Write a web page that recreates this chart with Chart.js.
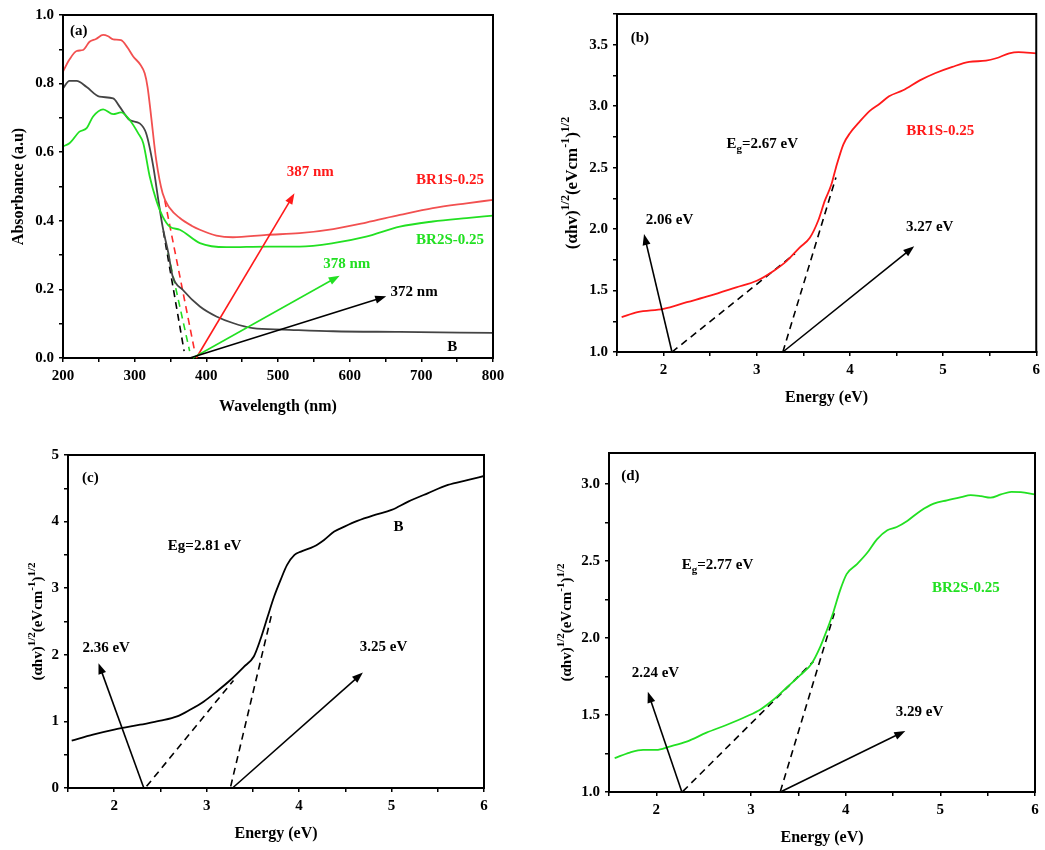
<!DOCTYPE html>
<html>
<head>
<meta charset="utf-8">
<script src="https://cdn.jsdelivr.net/npm/chart.js@4.4.1/dist/chart.umd.min.js"></script>
<style>
  body { margin: 0; background: #fff; width: 1045px; height: 850px; position: relative; overflow: hidden; }
  .box { position: absolute; }
</style>
</head>
<body>
<div class="box" style="left:0;top:0;width:515px;height:420px"><canvas id="ca"></canvas></div>
<div class="box" style="left:520px;top:0;width:525px;height:420px"><canvas id="cb"></canvas></div>
<div class="box" style="left:0;top:430px;width:515px;height:420px"><canvas id="cc"></canvas></div>
<div class="box" style="left:520px;top:430px;width:525px;height:420px"><canvas id="cd"></canvas></div>
<script>
// (a) absorbance spectra
const aRedX = [200,209,219,228,237,246,256,263,270,281,290,298,308,314,318,323,330,339,349,363,380,391,414,437,484,530,577,623,670,716,763,800];
const aRedY = [0.835,0.87,0.895,0.898,0.922,0.93,0.942,0.938,0.929,0.927,0.905,0.879,0.855,0.83,0.79,0.704,0.578,0.48,0.437,0.408,0.385,0.374,0.357,0.352,0.359,0.364,0.376,0.395,0.417,0.437,0.451,0.461];
const aGreenX = [200,209,223,233,242,256,270,281,293,305,312,321,330,339,349,363,391,428,484,530,577,623,670,716,763,800];
const aGreenY = [0.617,0.626,0.66,0.67,0.704,0.725,0.711,0.716,0.694,0.655,0.626,0.529,0.461,0.413,0.383,0.374,0.335,0.323,0.325,0.325,0.335,0.354,0.383,0.398,0.408,0.415];
const aBlackX = [200,209,219,233,251,270,279,293,307,316,326,333,339,347,353,367,391,414,437,465,507,577,670,800];
const aBlackY = [0.786,0.808,0.808,0.79,0.762,0.757,0.733,0.694,0.684,0.655,0.558,0.461,0.383,0.306,0.238,0.199,0.15,0.121,0.102,0.087,0.083,0.078,0.076,0.073];
const aTangents = [[340,0.37,369,0.02,'#000'],[346.5,0.306,376.7,0.02,'#22dd22'],[342,0.46,383.7,0.02,'#ff2a2a']];
const aArrows = [[386,0,523,0.48,'#ff1a1a'],[381,0,586,0.24,'#22e022'],[377,0,651,0.18,'#000']];
const aXTicks = [200,300,400,500,600,700,800];
const aYTicks = [0,0.2,0.4,0.6,0.8,1.0];

// (b) BR1S-0.25 Tauc plot
const bX = [1.55,1.72,2.0,2.25,2.5,2.78,3.0,3.18,3.32,3.46,3.57,3.66,3.73,3.80,3.85,3.93,4.0,4.10,4.21,4.32,4.42,4.57,4.75,4.92,5.10,5.28,5.46,5.57,5.71,5.81,6.0];
const bY = [1.283,1.324,1.351,1.405,1.458,1.526,1.58,1.66,1.74,1.85,1.93,2.07,2.23,2.36,2.50,2.69,2.78,2.87,2.96,3.02,3.08,3.13,3.21,3.27,3.32,3.36,3.37,3.39,3.43,3.44,3.43];
const bTangents = [[2.09,1.0,3.41,1.80],[3.28,1.0,3.85,2.42]];
const bArrows = [[2.09,1.0,1.79,1.96],[3.28,1.0,4.69,1.86]];
const bYTicks = [1.0,1.5,2.0,2.5,3.0,3.5];

// (c) B Tauc plot
const cX = [1.54,1.77,2.0,2.28,2.5,2.68,2.82,2.97,3.11,3.26,3.40,3.51,3.58,3.66,3.73,3.80,3.87,3.95,4.02,4.16,4.27,4.38,4.49,4.63,4.82,5.0,5.18,5.39,5.61,5.83,6.0];
const cY = [0.71,0.80,0.875,0.95,1.01,1.075,1.175,1.30,1.45,1.625,1.815,1.975,2.225,2.575,2.875,3.125,3.35,3.50,3.55,3.625,3.725,3.85,3.925,4.01,4.10,4.175,4.30,4.425,4.55,4.625,4.685];
const cTangents = [[2.35,0.025,3.29,1.615],[3.26,0.025,3.71,2.65]];
const cArrows = [[2.32,0,1.83,1.875],[3.28,0,4.69,1.735]];
const cYTicks = [0,1,2,3,4,5];

// (d) BR2S-0.25 Tauc plot
const dX = [1.56,1.72,1.86,2.0,2.14,2.32,2.53,2.74,2.95,3.10,3.24,3.38,3.52,3.64,3.73,3.80,3.87,3.94,4.01,4.12,4.23,4.33,4.44,4.54,4.65,4.79,4.93,5.07,5.22,5.32,5.43,5.53,5.64,5.75,5.85,6.0];
const dY = [1.22,1.256,1.273,1.273,1.295,1.327,1.385,1.435,1.49,1.536,1.60,1.68,1.758,1.833,1.94,2.048,2.167,2.307,2.414,2.479,2.554,2.64,2.699,2.72,2.759,2.824,2.871,2.893,2.914,2.927,2.92,2.91,2.931,2.948,2.946,2.931];
const dTangents = [[2.28,1.004,3.66,1.848],[3.31,1.004,3.88,2.16]];
const dArrows = [[2.27,1.0,1.91,1.65],[3.31,1.0,4.63,1.396]];
const dYTicks = [1.0,1.5,2.0,2.5,3.0];

const eXTicks = [2,3,4,5,6];

const FONT = '"Liberation Serif", "Times New Roman", serif';
const RED = '#ff2a2a';
const GREEN = '#22e022';

function pts(xs, ys) {
  return xs.map((x, i) => ({ x: x, y: ys[i] }));
}

function curve(xs, ys, color) {
  return { data: pts(xs, ys), borderColor: color, borderWidth: 1.8, pointRadius: 0,
           cubicInterpolationMode: 'monotone', fill: false };
}

function dashed(t, color) {
  return { data: [{ x: t[0], y: t[1] }, { x: t[2], y: t[3] }], borderColor: color || t[4] || '#000',
           borderWidth: 1.6, borderDash: [7, 5], pointRadius: 0, fill: false };
}

function axis(min, max, minor, majors, digits, size) {
  return {
    type: 'linear', min: min, max: max,
    afterBuildTicks: s => {
      const t = [];
      for (let v = min; v <= max + 1e-9; v += minor) t.push({ value: +v.toFixed(4) });
      s.ticks = t;
    },
    afterFit: s => { if (s.isHorizontal()) s.height = size; else s.width = size; },
    ticks: {
      autoSkip: false, maxRotation: 0, color: '#000', padding: 5,
      font: { family: FONT, size: 15, weight: 'bold' },
      callback: v => majors.some(m => Math.abs(m - v) < 1e-6) ? (+v).toFixed(digits) : ''
    },
    grid: { drawOnChartArea: false, tickLength: 4, color: '#000', lineWidth: 1.5 },
    border: { color: '#000', width: 2 }
  };
}

// texte med upphöjda / nedsänkta delar
function drawRich(ctx, parts, x, y, align, color, size) {
  const big = 'bold ' + size + 'px ' + FONT;
  const small = 'bold ' + Math.round(size * 0.7) + 'px ' + FONT;
  let w = 0;
  parts.forEach(p => { ctx.font = (p.sup || p.sub) ? small : big; w += ctx.measureText(p.t).width; });
  let cx = align === 'left' ? x : x - w / 2;
  ctx.fillStyle = color;
  ctx.textBaseline = 'middle';
  ctx.textAlign = 'left';
  parts.forEach(p => {
    ctx.font = (p.sup || p.sub) ? small : big;
    const dy = p.sup ? -size * 0.42 : (p.sub ? size * 0.3 : 0);
    ctx.fillText(p.t, cx, y + dy);
    cx += ctx.measureText(p.t).width;
  });
}

function drawArrow(ctx, x1, y1, x2, y2, color) {
  const ang = Math.atan2(y2 - y1, x2 - x1);
  const L = 11, H = 4;
  ctx.strokeStyle = color; ctx.fillStyle = color; ctx.lineWidth = 1.6;
  ctx.beginPath();
  ctx.moveTo(x1, y1);
  ctx.lineTo(x2 - L * 0.8 * Math.cos(ang), y2 - L * 0.8 * Math.sin(ang));
  ctx.stroke();
  ctx.beginPath();
  ctx.moveTo(x2, y2);
  ctx.lineTo(x2 - L * Math.cos(ang) + H * Math.sin(ang), y2 - L * Math.sin(ang) - H * Math.cos(ang));
  ctx.lineTo(x2 - L * Math.cos(ang) - H * Math.sin(ang), y2 - L * Math.sin(ang) + H * Math.cos(ang));
  ctx.closePath();
  ctx.fill();
}

const decor = {
  id: 'decor',
  afterDatasetsDraw(chart, args, o) {
    const ctx = chart.ctx, a = chart.chartArea, sx = chart.scales.x, sy = chart.scales.y;
    ctx.save();
    ctx.strokeStyle = '#000'; ctx.lineWidth = 2;
    ctx.strokeRect(a.left, a.top, a.right - a.left, a.bottom - a.top);
    (o.arrows || []).forEach(r => drawArrow(ctx, sx.getPixelForValue(r[0]), sy.getPixelForValue(r[1]),
      sx.getPixelForValue(r[2]), sy.getPixelForValue(r[3]), r[4] || '#000'));
    (o.notes || []).forEach(n => drawRich(ctx, n.parts, sx.getPixelForValue(n.x), sy.getPixelForValue(n.y),
      n.align || 'center', n.color || '#000', 15));
    drawRich(ctx, o.xTitle, (a.left + a.right) / 2, a.bottom + o.xOff, 'center', '#000', 16);
    ctx.translate(a.left - o.yOff, (a.top + a.bottom) / 2);
    ctx.rotate(-Math.PI / 2);
    drawRich(ctx, o.yTitle, 0, 0, 'center', '#000', o.ySize || 16);
    ctx.restore();
  }
};

function makePanel(id, p) {
  return new Chart(document.getElementById(id), {
    type: 'line',
    data: { datasets: p.datasets },
    options: {
      responsive: true, maintainAspectRatio: false, animation: false,
      layout: { padding: { top: p.area[1], right: p.W - p.area[2], left: 0, bottom: 0 } },
      plugins: { legend: { display: false }, tooltip: { enabled: false }, decor: p.decor },
      scales: { x: p.x, y: p.y }
    },
    plugins: [decor]
  });
}

const energyTitle = [{ t: 'Energy (eV)' }];
const tauc = [{ t: '(\u03b1hv)' }, { t: '1/2', sup: true }, { t: '(eVcm' }, { t: '-1', sup: true }, { t: ')' }, { t: '1/2', sup: true }];
const taucBig = [{ t: '(\u03b1hv)' }, { t: '1/2', sup: true }, { t: '(eVcm' }, { t: '-1', sup: true }, { t: ')' }, { t: '1/2', sup: true }];

makePanel('ca', {
  W: 515, area: [63, 15, 493, 358],
  datasets: [curve(aRedX, aRedY, '#f25050'), curve(aGreenX, aGreenY, GREEN), curve(aBlackX, aBlackY, '#444'),
             dashed(aTangents[0]), dashed(aTangents[1]), dashed(aTangents[2])],
  x: axis(200, 800, 50, aXTicks, 0, 62),
  y: axis(0, 1.0, 0.1, aYTicks, 1, 63),
  decor: {
    arrows: aArrows,
    notes: [
      { parts: [{ t: '(a)' }], x: 209.8, y: 0.953, align: 'left' },
      { parts: [{ t: '387 nm' }], x: 545, y: 0.542, color: '#ff1a1a' },
      { parts: [{ t: 'BR1S-0.25' }], x: 740, y: 0.519, color: '#ff1a1a' },
      { parts: [{ t: 'BR2S-0.25' }], x: 740, y: 0.344, color: GREEN },
      { parts: [{ t: '378 nm' }], x: 596, y: 0.274, color: GREEN },
      { parts: [{ t: '372 nm' }], x: 690, y: 0.192 },
      { parts: [{ t: 'B' }], x: 743, y: 0.032 }
    ],
    xTitle: [{ t: 'Wavelength (nm)' }], xOff: 49,
    yTitle: [{ t: 'Absorbance (a.u)' }], yOff: 44
  }
});

makePanel('cb', {
  W: 525, area: [97, 13, 518, 352],
  datasets: [curve(bX, bY, '#ff1a1a'), dashed(bTangents[0], '#000'), dashed(bTangents[1], '#000')],
  x: axis(1.5, 6, 0.5, eXTicks, 0, 68),
  y: axis(1.0, 3.75, 0.25, bYTicks, 1, 97),
  decor: {
    arrows: bArrows,
    notes: [
      { parts: [{ t: '(b)' }], x: 1.647, y: 3.557, align: 'left' },
      { parts: [{ t: '2.06 eV' }], x: 2.064, y: 2.076 },
      { parts: [{ t: '3.27 eV' }], x: 4.856, y: 2.02 },
      { parts: [{ t: 'E' }, { t: 'g', sub: true }, { t: '=2.67 eV' }], x: 3.06, y: 2.69 },
      { parts: [{ t: 'BR1S-0.25' }], x: 4.97, y: 2.796, color: '#ff1a1a' }
    ],
    xTitle: energyTitle, xOff: 46,
    yTitle: taucBig, yOff: 44, ySize: 17
  }
});

makePanel('cc', {
  W: 515, area: [68, 25, 484, 358],
  datasets: [curve(cX, cY, '#000'), dashed(cTangents[0], '#000'), dashed(cTangents[1], '#000')],
  x: axis(1.5, 6, 0.5, eXTicks, 0, 62),
  y: axis(0, 5, 0.5, cYTicks, 0, 68),
  decor: {
    arrows: cArrows,
    notes: [
      { parts: [{ t: '(c)' }], x: 1.652, y: 4.655, align: 'left' },
      { parts: [{ t: '2.36 eV' }], x: 1.913, y: 2.10 },
      { parts: [{ t: '3.25 eV' }], x: 4.913, y: 2.117 },
      { parts: [{ t: 'Eg=2.81 eV' }], x: 2.978, y: 3.63 },
      { parts: [{ t: 'B' }], x: 5.076, y: 3.92 }
    ],
    xTitle: energyTitle, xOff: 46,
    yTitle: tauc, yOff: 30, ySize: 15
  }
});

makePanel('cd', {
  W: 525, area: [89, 23, 515, 362],
  datasets: [curve(dX, dY, GREEN), dashed(dTangents[0], '#000'), dashed(dTangents[1], '#000')],
  x: axis(1.5, 6, 0.5, eXTicks, 0, 58),
  y: axis(1.0, 3.2, 0.25, dYTicks, 1, 89),
  decor: {
    arrows: dArrows,
    notes: [
      { parts: [{ t: '(d)' }], x: 1.629, y: 3.05, align: 'left' },
      { parts: [{ t: '2.24 eV' }], x: 1.99, y: 1.77 },
      { parts: [{ t: '3.29 eV' }], x: 4.78, y: 1.518 },
      { parts: [{ t: 'E' }, { t: 'g', sub: true }, { t: '=2.77 eV' }], x: 2.647, y: 2.47 },
      { parts: [{ t: 'BR2S-0.25' }], x: 5.27, y: 2.32, color: GREEN }
    ],
    xTitle: energyTitle, xOff: 46,
    yTitle: tauc, yOff: 42, ySize: 15
  }
});
</script>
</body>
</html>
